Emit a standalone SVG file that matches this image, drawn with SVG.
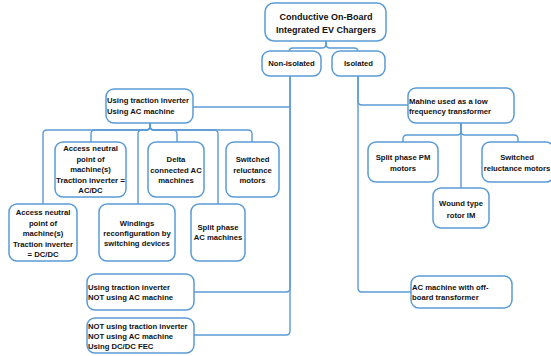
<svg xmlns="http://www.w3.org/2000/svg" width="551" height="356" viewBox="0 0 551 356">
<style>
.b{fill:#fff;stroke:#5b9bd5;stroke-width:1.5}
.c{fill:none;stroke:#5b9bd5;stroke-width:1.4}
text{font-family:"Liberation Sans",Arial,sans-serif;font-weight:bold;font-size:7.7px;fill:#111}
.m{text-anchor:middle}
.t{font-size:9px}
</style>
<rect width="551" height="356" fill="#fff"/>
<g id="connectors">
<path class="c" d="M326 41 V44 Q326 48 322 48 H293 Q289 48 289 52"/>
<path class="c" d="M326 41 V44 Q326 48 330 48 H354 Q358 48 358 52"/>
<path class="c" d="M290 76 V288 Q290 292 286 292 H194"/>
<path class="c" d="M290 76 V331 Q290 335 286 335 H194"/>
<path class="c" d="M193 107 H290"/>
<path class="c" d="M150 123 V126 Q150 130 146 130 H47 Q43 130 43 134 V204"/>
<path class="c" d="M150 123 V126 Q150 130 146 130 H95 Q91 130 91 134 V142"/>
<path class="c" d="M150 123 V126 Q150 130 146 130 H142 Q138 130 138 134 V204"/>
<path class="c" d="M150 123 V126 Q150 130 154 130 H173 Q177 130 177 134 V142"/>
<path class="c" d="M150 123 V126 Q150 130 154 130 H214 Q218 130 218 134 V204"/>
<path class="c" d="M150 123 V126 Q150 130 154 130 H248 Q252 130 252 134 V142"/>
<path class="c" d="M358 76 V101 Q358 105 362 105 H408"/>
<path class="c" d="M358 76 V288 Q358 292 362 292 H411"/>
<path class="c" d="M461 123 V131 Q461 135 457 135 H407 Q403 135 403 139 V142"/>
<path class="c" d="M461 123 V131 Q461 135 465 135 H514 Q518 135 518 139 V142"/>
<path class="c" d="M461 123 V188"/>
</g>
<g id="root"><rect class="b" x="265" y="3" width="121" height="38" rx="9"/>
<text class="m t" x="326" y="20">Conductive On-Board</text>
<text class="m t" x="326" y="33">Integrated EV Chargers</text></g>
<g id="nonisolated"><rect class="b" x="262" y="51" width="59" height="25" rx="8"/>
<text class="m" x="291.5" y="66">Non-isolated</text></g>
<g id="isolated"><rect class="b" x="332" y="51" width="53" height="25" rx="8"/>
<text class="m" x="358.5" y="66">Isolated</text></g>
<g id="using-ti"><rect class="b" x="106" y="89" width="87" height="34" rx="8"/>
<text x="107" y="103">Using traction inverter</text>
<text x="107" y="114">Using AC machine</text></g>
<g id="acdc"><rect class="b" x="55" y="142" width="71" height="55" rx="8"/>
<text class="m" x="90.5" y="151">Access neutral</text>
<text class="m" x="90.5" y="161.5">point of</text>
<text class="m" x="90.5" y="172">machine(s)</text>
<text class="m" x="90.5" y="182.5" textLength="69" lengthAdjust="spacingAndGlyphs">Traction inverter =</text>
<text class="m" x="90.5" y="193">AC/DC</text></g>
<g id="dcdc"><rect class="b" x="9" y="204" width="68" height="57" rx="8"/>
<text class="m" x="43" y="215">Access neutral</text>
<text class="m" x="43" y="225.5">point of</text>
<text class="m" x="43" y="236">machine(s)</text>
<text class="m" x="43" y="246.5">Traction inverter</text>
<text class="m" x="43" y="257">= DC/DC</text></g>
<g id="delta"><rect class="b" x="148" y="142" width="56" height="55" rx="8"/>
<text class="m" x="176" y="162">Delta</text>
<text class="m" x="176" y="173">connected AC</text>
<text class="m" x="176" y="183">machines</text></g>
<g id="srm1"><rect class="b" x="226" y="142" width="53" height="55" rx="8"/>
<text class="m" x="252.5" y="162">Switched</text>
<text class="m" x="252.5" y="173">reluctance</text>
<text class="m" x="252.5" y="183">motors</text></g>
<g id="windings"><rect class="b" x="99" y="204" width="76" height="57" rx="8"/>
<text class="m" x="137" y="226">Windings</text>
<text class="m" x="137" y="236">reconfiguration by</text>
<text class="m" x="137" y="246">switching devices</text></g>
<g id="splitac"><rect class="b" x="191" y="204" width="54" height="57" rx="8"/>
<text class="m" x="218" y="230">Split phase</text>
<text class="m" x="218" y="240">AC machines</text></g>
<g id="ti-notac"><rect class="b" x="87" y="274" width="107" height="36" rx="8"/>
<text x="88" y="290">Using traction inverter</text>
<text x="88" y="300">NOT using AC machine</text></g>
<g id="notti"><rect class="b" x="87" y="318" width="107" height="35" rx="8"/>
<text x="88" y="329">NOT using traction inverter</text>
<text x="88" y="339">NOT using AC machine</text>
<text x="88" y="349">Using DC/DC FEC</text></g>
<g id="lowfreq"><rect class="b" x="408" y="88" width="106" height="35" rx="8"/>
<text x="409" y="104">Mahine used as a low</text>
<text x="409" y="114">frequency transformer</text></g>
<g id="splitpm"><rect class="b" x="368" y="142" width="70" height="40" rx="8"/>
<text class="m" x="403" y="160">Split phase PM</text>
<text class="m" x="403" y="171">motors</text></g>
<g id="srm2"><rect class="b" x="482" y="142" width="72" height="40" rx="8"/>
<text class="m" x="517" y="160">Switched</text>
<text class="m" x="517" y="171">reluctance motors</text></g>
<g id="wound"><rect class="b" x="433" y="188" width="56" height="40" rx="8"/>
<text class="m" x="461" y="206">Wound type</text>
<text class="m" x="461" y="218">rotor IM</text></g>
<g id="offboard"><rect class="b" x="411" y="276" width="101" height="32" rx="8"/>
<text x="412" y="290"> AC machine with off-</text>
<text x="412" y="300">board transformer</text></g>
</svg>
